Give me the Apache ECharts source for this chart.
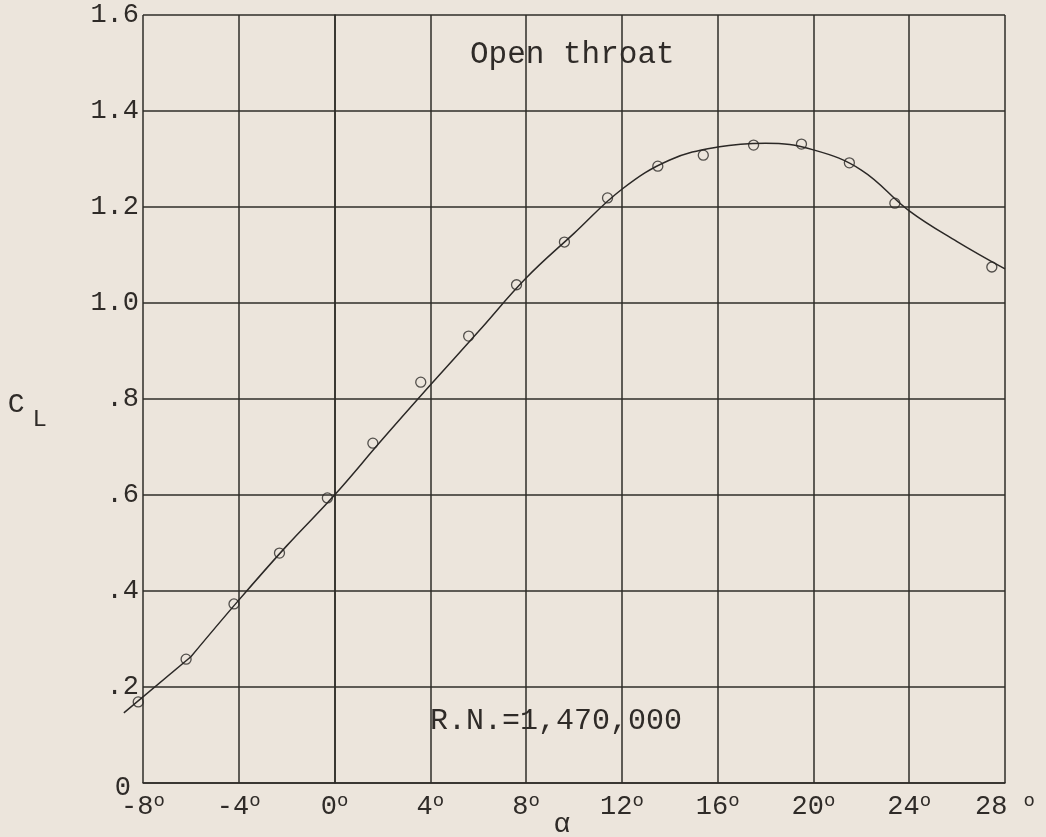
<!DOCTYPE html>
<html>
<head>
<meta charset="utf-8">
<script src="https://cdn.jsdelivr.net/npm/echarts@6/dist/echarts.min.js"></script>
<style>
html,body{margin:0;padding:0;background:#ece5dc;}
#chart{width:1046px;height:837px;}
</style>
</head>
<body>
<div id="chart"></div>
<script>
// Measured points (angle of attack in degrees, lift coefficient)
const pointAlpha = [-8.2, -6.2, -4.2, -2.3, -0.3, 1.6, 3.6, 5.6, 7.6, 9.6, 11.4, 13.5, 15.4, 17.5, 19.5, 21.5, 23.4, 27.45];
const pointCL    = [0.169, 0.258, 0.373, 0.479, 0.594, 0.708, 0.835, 0.931, 1.038, 1.127, 1.219, 1.285, 1.308, 1.329, 1.331, 1.292, 1.208, 1.075];

// Faired curve
const curveAlpha = [-8.8, -6, -4, -2, 0, 2, 4, 6, 8, 10, 12, 14, 16, 18, 20, 22, 24, 26, 28];
const curveCL    = [0.146, 0.263, 0.381, 0.494, 0.600, 0.716, 0.829, 0.940, 1.052, 1.145, 1.237, 1.298, 1.325, 1.333, 1.319, 1.277, 1.192, 1.128, 1.071];

// Tick labels
const xTickValues = [-8, -4, 0, 4, 8, 12, 16, 20, 24, 28];
const xTickLabels = ['-8', '-4', '0', '4', '8', '12', '16', '20', '24', '28 '];
const yTickValues = [0, 0.2, 0.4, 0.6, 0.8, 1.0, 1.2, 1.4, 1.6];
const yTickLabels = ['0', '.2', '.4', '.6', '.8', '1.0', '1.2', '1.4', '1.6'];

const titleText = 'Open throat';
const rnText = 'R.N.=1,470,000';

const ink = '#2f2b28';
const gridInk = '#2f2c29';
const lineInk = '#2b2826';
const FONT = "'Liberation Mono', 'DejaVu Sans Mono', monospace";

const chart = echarts.init(document.getElementById('chart'));
chart.setOption({
  backgroundColor: '#ece5dc',
  animation: false,
  grid: { left: 143, right: 41, top: 15, bottom: 54, containLabel: false, outerBoundsMode: 'none' },
  xAxis: {
    type: 'value', min: -8, max: 28, interval: 4,
    name: 'α', nameLocation: 'middle', nameGap: 28, nameMoveOverlap: false,
    nameTextStyle: { fontFamily: FONT, fontSize: 28, color: ink, padding: [0, 24, 0, 0] },
    axisLine: { show: true, lineStyle: { color: gridInk, width: 1.5 } },
    axisTick: { show: false },
    splitLine: { show: true, lineStyle: { color: gridInk, width: 1.5 } },
    axisLabel: {
      margin: 8,
      formatter: function (v) {
        const i = xTickValues.findIndex(t => Math.abs(t - v) < 1e-6);
        return i < 0 ? '' : '{n|' + xTickLabels[i] + '}{d|o}';
      },
      rich: {
        n: { fontFamily: FONT, fontSize: 27, color: ink },
        d: { fontFamily: FONT, fontSize: 19, color: ink, padding: [0, 0, 13, 0] }
      }
    }
  },
  yAxis: {
    type: 'value', min: 0, max: 1.6, interval: 0.2,
    name: '{c|C}{s|L}', nameLocation: 'middle', nameRotate: 0, nameGap: 96, nameMoveOverlap: false,
    nameTextStyle: {
      fontFamily: FONT, fontSize: 28, color: ink, padding: [12, 0, 0, 0],
      rich: {
        c: { fontFamily: FONT, fontSize: 28, color: ink },
        s: { fontFamily: FONT, fontSize: 24, color: ink, padding: [30, 0, 0, 8] }
      }
    },
    axisLine: { show: true, lineStyle: { color: gridInk, width: 1.5 } },
    axisTick: { show: false },
    splitLine: { show: true, lineStyle: { color: gridInk, width: 1.5 } },
    axisLabel: {
      margin: 4,
      fontFamily: FONT, fontSize: 27, color: ink,
      formatter: function (v) {
        const i = yTickValues.findIndex(t => Math.abs(t - v) < 1e-6);
        if (i < 0) return '';
        return i === 0 ? '{z|' + yTickLabels[i] + '}' : yTickLabels[i];
      },
      rich: {
        z: { fontFamily: FONT, fontSize: 27, color: ink, padding: [10, 8, 0, 0] }
      }
    }
  },
  graphic: [
    { type: 'text', left: 470, top: 39, style: { text: titleText, font: "31px 'Liberation Mono'", fill: ink } },
    { type: 'text', left: 430, top: 706, style: { text: rnText, font: "30px 'Liberation Mono'", fill: ink } }
  ],
  series: [
    {
      // faired curve from its second sample onward (smoothed)
      type: 'line', name: 'curve', smooth: 0.4, clip: false,
      showSymbol: false, symbol: 'none',
      lineStyle: { color: lineInk, width: 1.5 },
      data: curveAlpha.slice(1).map((a, i) => [a, curveCL[i + 1]]),
      z: 3
    },
    {
      // straight first stretch of the faired curve, which runs past the left border
      type: 'custom', name: 'curve start', clip: false, silent: true,
      encode: { x: [0, 2], y: [1, 3] },
      data: [[curveAlpha[0], curveCL[0], curveAlpha[1], curveCL[1]]],
      renderItem: function (params, api) {
        const p0 = api.coord([api.value(0), api.value(1)]);
        const p1 = api.coord([api.value(2), api.value(3)]);
        return {
          type: 'line',
          shape: { x1: p0[0], y1: p0[1], x2: p1[0], y2: p1[1] },
          style: { stroke: lineInk, lineWidth: 1.5, fill: null }
        };
      },
      z: 3
    },
    {
      type: 'scatter', name: 'test points', clip: false,
      symbol: 'circle', symbolSize: 10,
      itemStyle: { color: 'rgba(0,0,0,0)', borderColor: lineInk, borderWidth: 1.3 },
      data: pointAlpha.map((a, i) => [a, pointCL[i]]),
      z: 4
    }
  ]
});
</script>
</body>
</html>
